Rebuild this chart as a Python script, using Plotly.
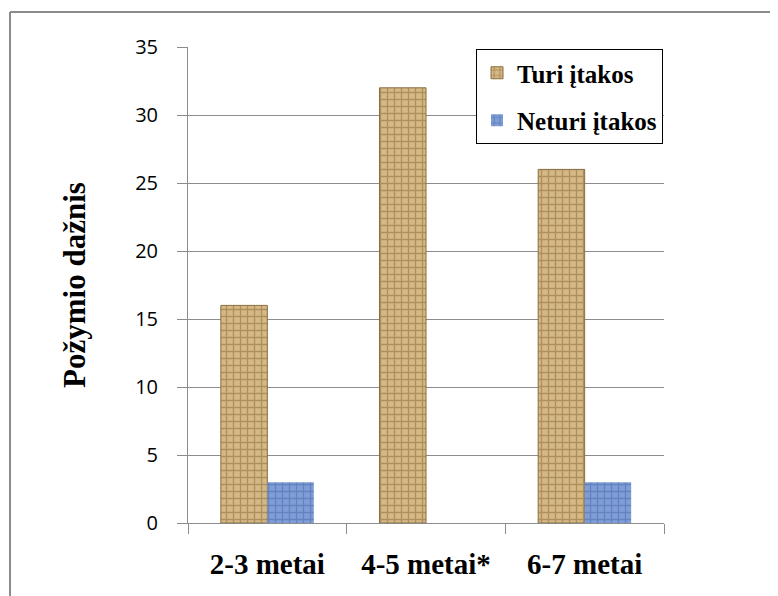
import plotly.graph_objects as go

categories = ["2-3 metai", "4-5 metai*", "6-7 metai"]
turi_itakos = [16, 32, 26]
neturi_itakos = [3, 0, 3]
series_names = ["Turi įtakos", "Neturi įtakos"]
y_ticks = [0, 5, 10, 15, 20, 25, 30, 35]

serif = "Liberation Serif"

# plot area in figure pixels (page has an 8px body offset)
L, T, PH = 180, 39, 476
B = T + PH

fig = go.Figure()
fig.add_trace(go.Bar(
    x=categories, y=turi_itakos, name=series_names[0], legendgroup="a",
    marker=dict(color="#d4b986", line=dict(color="#8a6d3f", width=1),
                pattern=dict(shape="+", fgcolor="#8a6532", size=7, solidity=0.35)),
))
fig.add_trace(go.Bar(
    x=categories, y=neturi_itakos, name=series_names[1], legendgroup="b",
    marker=dict(color="#7f9dd6", line=dict(color="#3d5a92", width=0),
                pattern=dict(shape="+", fgcolor="#4a68a6", size=7, solidity=0.35)),
))

fig.update_layout(
    width=778, height=596,
    font=dict(family=serif, color="black"),
    margin=dict(l=L, r=778 - L - 476, t=T, b=596 - B),
    paper_bgcolor="white", plot_bgcolor="white",
    barmode="group", bargap=0.414, bargroupgap=0,
    showlegend=True,
    legend=dict(x=(476 - 8 - L) / 476, y=(B - (49 - 8)) / PH, xanchor="left", yanchor="top",
                bordercolor="#000000", borderwidth=1, bgcolor="white",
                font=dict(family=serif, size=25, color="black", weight="bold"),
                traceorder="grouped", tracegroupgap=12),
    yaxis=dict(title=dict(text="<b>Požymio dažnis</b>",
                          font=dict(family=serif, size=31, color="black"), standoff=40),
               range=[0, 35], tickvals=y_ticks, showgrid=True, gridcolor="#8c8c8c", gridwidth=1,
               showline=True, linecolor="#8c8c8c", linewidth=1,
               ticks="outside", ticklen=10, tickcolor="#8c8c8c", ticklabelstandoff=15,
               tickfont=dict(family="Open Sans", size=20, color="black"),
               zeroline=False, fixedrange=True),
    xaxis=dict(showline=True, linecolor="#8c8c8c", linewidth=1,
               ticks="outside", ticklen=10, tickcolor="#8c8c8c", tickson="boundaries",
               ticklabelstandoff=15,
               tickmode="array", tickvals=categories,
               ticktext=["<b>" + c + "</b>" for c in categories],
               tickfont=dict(family="Liberation Serif, Times New Roman, serif", size=29, color="black"),
               showgrid=False, fixedrange=True),
    shapes=[
        dict(type="line", xref="paper", yref="paper", x0=(2 - L) / 476, x1=(790 - L) / 476,
             y0=(B - 4) / PH, y1=(B - 4) / PH, line=dict(color="#8c8c8c", width=2)),
        dict(type="line", xref="paper", yref="paper", x0=(2 - L) / 476, x1=(2 - L) / 476,
             y0=(B - 4) / PH, y1=(B - 600) / PH, line=dict(color="#8c8c8c", width=2)),
    ],
)

fig.write_html("out.html")
